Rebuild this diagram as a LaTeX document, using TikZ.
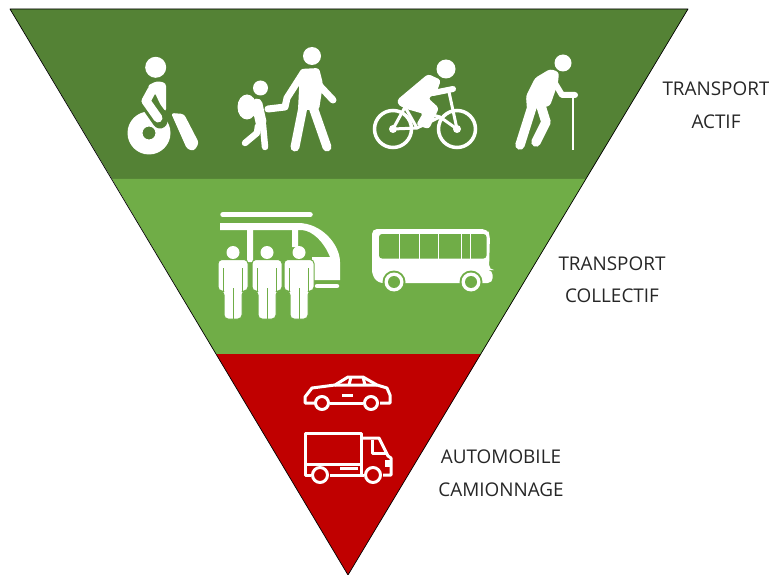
\documentclass[tikz,border=0pt]{standalone}
\usepackage{fontspec}
\setmainfont{Open Sans}
\usetikzlibrary{positioning}
\definecolor{actifgreen}{HTML}{548235}
\definecolor{collgreen}{HTML}{70AD47}
\definecolor{autored}{HTML}{C00000}
\tikzset{
  modelabel/.style={font=\fontsize{18.9}{22}\selectfont, text=black!85},
  limb/.style={draw=white, line width=#1, line cap=round, line join=round},
  outline/.style={draw=white, line width=3pt, line join=round},
  blob/.style={fill=white, rounded corners=3pt},
}
\begin{document}
\begin{tikzpicture}[x=1pt,y=-1pt]
  \useasboundingbox (0,0) rectangle (769,575);
  \fill[actifgreen] (10,9) -- (688,9) -- (586,179) -- (112,179) -- cycle;
  \fill[collgreen] (112,179) -- (586,179) -- (481,354) -- (216,354) -- cycle;
  \fill[autored] (216,354) -- (481,354) -- (348,575) -- cycle;
  \draw[black, line width=.7pt, line join=round] (10,9) -- (688,9) -- (348,575) -- cycle;

  % wheelchair
  \fill[white, even odd rule] (149,133) circle (21.5) (149,133) circle (6.5);
  \draw[actifgreen, line width=15pt, line cap=round] (146,101) -- (160,121);
  \fill[white] (155.7,67.3) circle (10.5);
  \fill[blob] (147,86) -- (157,81) -- (166,83) -- (166,112) -- (160,104) -- (155,93) -- cycle;
  \draw[limb=9pt] (152,90) -- (146,101) -- (158,118);
  \fill[blob] (171,113) -- (184,114) -- (199,143) -- (194,151) -- (187,149) -- cycle;

  % adult and child
  \fill[white] (312,56) circle (9);
  \fill[blob] (300,69) -- (319,68) -- (323,84) -- (319,110) -- (298,110) -- cycle;
  \draw[limb=7pt] (303,73) -- (287,98) -- (285,107) -- (268,109);
  \draw[limb=7pt] (318,84) -- (333,100);
  \draw[limb=9pt] (303,107) -- (295,147);
  \draw[limb=9pt] (313,107) -- (327,147);
  \fill[white] (260.5,88) circle (7.5);
  \fill[white] (247,107) ellipse (9.5 and 12.5);
  \draw[limb=11pt] (257,104) -- (261,122);
  \draw[limb=6.5pt] (258,126) -- (257,133) -- (245,143);
  \draw[limb=6.5pt] (263,125) -- (265,147);

  % bicycle
  \draw[white, line width=3.5pt] (393,129) circle (18.5) (457,129) circle (18.5);
  \fill[white] (393,129) circle (4) (457,129) circle (4);
  \draw[limb=3pt] (393,129) -- (405,107) -- (417,128) -- cycle;
  \draw[limb=3pt] (405,107) -- (440,117) -- (457,129);
  \draw[limb=3pt] (449,92) -- (457,129);
  \draw[limb=3pt] (417,128) -- (440,117);
  \fill[white] (446,69) circle (9.5);
  \fill[blob] (428,74) -- (441,80) -- (436,94) -- (428,98) -- (439,108) -- (429,129)
    -- (416,125) -- (423,113) -- (399,106) -- (397,100) -- cycle;
  \draw[limb=6pt] (433,93) -- (453,89);

  % old man with cane
  \fill[white] (563,63) circle (8.5);
  \fill[blob] (550,69) -- (559,72) -- (558,83) -- (550,106) -- (527,110) -- (526,96) -- (535,78) -- cycle;
  \draw[limb=6pt] (553,80) -- (562,95) -- (575,95);
  \draw[limb=9.5pt] (532,107) -- (520,145);
  \draw[limb=9.5pt] (541,106) -- (546,122) -- (536,142);
  \draw[white, line width=2pt] (573,96) -- (573,150);

  % train
  \draw[limb=5.5pt] (223,214.7) -- (310,214.7);
  \fill[white] (220,223) -- (298,223) .. controls (322,223) and (340,245) .. (340,262)
    -- (340,280) -- (312,280) -- (312,257) -- (330,257)
    .. controls (324,242) and (313,231) .. (302,230) -- (220,230) -- cycle;
  \fill[white] (247,230) rectangle (253,262) (292,230) rectangle (298,247);
  \draw[limb=4.5pt] (317,286) -- (337,286);

  % riders
  \foreach \x in {233,267,299} {
    \fill[white] (\x,252.5) circle (6.5);
    \draw[collgreen, line width=1pt, fill=white, rounded corners=4pt]
      (\x-15,291) -- (\x-15,259.5) -- (\x+15,259.5) -- (\x+15,291) -- (\x+9,291) -- (\x+9,319) -- (\x-9,319) -- (\x-9,291) -- cycle;
    \draw[collgreen, line width=.8pt] (\x-9.5,268) -- (\x-9.5,292) (\x+9.5,268) -- (\x+9.5,292) (\x,288) -- (\x,319);
  }

  % bus
  \fill[white, rounded corners=5pt] (372,229) -- (487,229) -- (490,235) -- (489,270) -- (492.7,270)
    -- (492.7,283) -- (378,283) -- (372,275) -- cycle;
  \fill[collgreen, rounded corners=3pt] (379,234) rectangle (486.5,258.5);
  \foreach \x in {399,419,438,461,470} \fill[white] (\x-.5,234) rectangle (\x+.5,259);
  \foreach \x in {394,471} {
    \fill[collgreen] (\x,282) circle (11.5);
    \fill[white] (\x,282) circle (9.5);
    \fill[collgreen] (\x,282) circle (6);
  }

  % car
  \draw[outline] (315,403) -- (305,403) -- (305,397) -- (312,388) -- (335,385) -- (348,377)
    -- (363,377) -- (377,385) -- (387,388) -- (390,395) -- (390,403) -- (380,403);
  \draw[outline] (330,403) -- (363,403);
  \draw[outline] (335,385) -- (377,385) (351,377) -- (349,385) (363,377) -- (365,385);
  \draw[outline] (342,395) -- (353,395);
  \draw[outline] (322,403) circle (6.5) (371,403) circle (6.5);

  % truck
  \draw[outline] (311,475) -- (305,475) -- (305,433) -- (361,433) -- (361,475) -- (330,475);
  \draw[outline] (361,438) -- (379,438) -- (388,456) -- (391,458) -- (391,475) -- (383,475);
  \draw[outline] (364,475) -- (361,475);
  \draw[outline] (372,440) -- (372,453) -- (387,453);
  \draw[outline] (305,464) -- (361,464) (340,468) -- (358,468);
  \fill[white] (385,460) rectangle (391,467);
  \draw[outline] (320,475) circle (7.5) (373,475) circle (7.5);

  \node[modelabel] (actif1) at (716,89) {TRANSPORT};
  \node[modelabel] (actif2) at (716,122) {ACTIF};
  \node[modelabel] (coll1) at (612,264) {TRANSPORT};
  \node[modelabel] (coll2) at (612,296) {COLLECTIF};
  \node[modelabel] (auto1) at (501,457) {AUTOMOBILE};
  \node[modelabel] (auto2) at (501,490) {CAMIONNAGE};
\end{tikzpicture}
\end{document}
